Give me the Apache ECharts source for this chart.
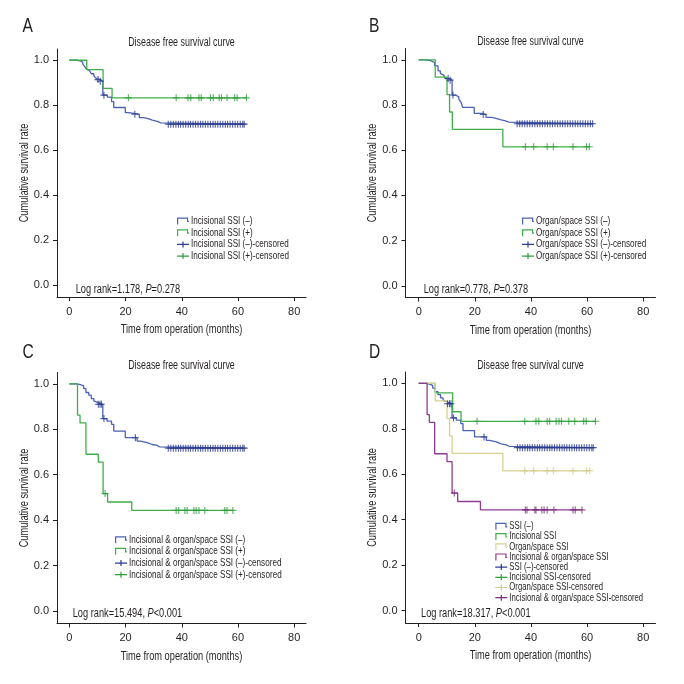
<!DOCTYPE html>
<html><head><meta charset="utf-8">
<script src="https://cdn.jsdelivr.net/npm/echarts@6/dist/echarts.min.js"></script>
<style>html,body{margin:0;padding:0;background:#fff}#c{width:684px;height:684px}</style>
</head><body><div id="c"></div>
<script>
// ---------- DATA ----------
const xTicks = [0, 20, 40, 60, 80];
const yTicks = [0, 0.2, 0.4, 0.6, 0.8, 1.0];

// Panel A
const aNegT = [0, 2.7, 3.9, 4.8, 5.5, 5.9, 6.5, 7.1, 7.8, 8.7, 9.3, 9.9, 10.7, 11.9, 13.5, 15.0, 15.8, 19.9, 21.0, 24.9, 26.5, 28.3, 29.5, 31.3, 32.5];
const aNegS = [1, 0.997, 0.991, 0.982, 0.972, 0.962, 0.955, 0.948, 0.940, 0.931, 0.922, 0.914, 0.907, 0.845, 0.836, 0.816, 0.790, 0.767, 0.760, 0.745, 0.739, 0.734, 0.728, 0.722, 0.716];
const aNegEnd = 62.2;
const aNegCens = [10.2, 11.0, 12.3, 23.3, 35.2, 36.1, 37.0, 37.9, 38.8, 39.6, 40.5, 41.4, 42.3, 43.1, 44.0, 44.9, 45.8, 46.7, 47.5, 48.4, 49.3, 50.2, 51.1, 51.9, 52.8, 53.7, 54.6, 55.5, 56.3, 57.2, 58.1, 59.0, 59.9, 60.8, 61.7, 62.2];
const aPosT = [0, 6.2, 12.0, 15.2];
const aPosS = [1, 0.958, 0.875, 0.833];
const aPosEnd = 63.2;
const aPosCens = [21.0, 38.0, 42.2, 43.2, 46.1, 46.9, 50.2, 51.2, 53.3, 54.1, 56.1, 58.8, 59.7, 63.0];

// Panel B
const bNegT = [0, 2.4, 4.0, 4.8, 5.7, 6.9, 7.7, 8.3, 8.9, 9.5, 10.7, 11.9, 13.1, 14.3, 15.0, 15.7, 19.8, 22.8, 24.0, 26.1, 27.9, 29.1, 30.9, 32.1];
const bNegS = [1, 0.997, 0.993, 0.988, 0.973, 0.951, 0.940, 0.932, 0.925, 0.917, 0.910, 0.844, 0.836, 0.826, 0.814, 0.789, 0.763, 0.758, 0.745, 0.740, 0.735, 0.730, 0.724, 0.717];
const bNegEnd = 62.0;
const bNegCens = [10.5, 11.2, 12.2, 23.0, 35.1, 36.0, 36.9, 37.8, 38.7, 39.6, 40.5, 41.4, 42.3, 43.2, 44.1, 45.0, 45.9, 46.8, 47.7, 48.6, 49.5, 50.4, 51.3, 52.2, 53.1, 54.0, 54.9, 55.8, 56.7, 57.6, 58.5, 59.4, 60.3, 61.2, 62.0];
const bPosT = [0, 5.9, 10.1, 11.0, 12.0, 30.0];
const bPosS = [1, 0.923, 0.846, 0.769, 0.692, 0.615];
const bPosEnd = 61.0;
const bPosCens = [38.0, 41.0, 45.8, 48.0, 55.0, 59.8, 60.8];

// Panel C
const cNegT = [0, 2.7, 3.9, 5.1, 5.9, 6.9, 7.8, 8.7, 9.3, 10.2, 11.9, 13.4, 15.0, 15.8, 19.9, 24.1, 25.3, 27.7, 29.4, 31.2, 32.0];
const cNegS = [1, 0.997, 0.991, 0.979, 0.962, 0.950, 0.935, 0.925, 0.917, 0.910, 0.847, 0.836, 0.822, 0.792, 0.763, 0.748, 0.741, 0.733, 0.729, 0.723, 0.717];
const cNegEnd = 62.2;
const cNegCens = [10.3, 10.9, 11.4, 12.3, 23.5, 35.2, 36.1, 37.0, 37.9, 38.8, 39.6, 40.5, 41.4, 42.3, 43.1, 44.0, 44.9, 45.8, 46.7, 47.5, 48.4, 49.3, 50.2, 51.1, 51.9, 52.8, 53.7, 54.6, 55.5, 56.3, 57.2, 58.1, 59.0, 59.9, 60.8, 61.7, 62.2];
const cPosT = [0, 2.9, 3.8, 5.9, 10.3, 12.0, 13.6, 22.2];
const cPosS = [1, 0.862, 0.828, 0.690, 0.655, 0.517, 0.480, 0.443];
const cPosEnd = 58.3;
const cPosCens = [12.7, 38.0, 38.9, 41.1, 41.9, 44.3, 45.1, 46.1, 48.2, 55.3, 56.1, 58.2];

// Panel D
const dNegT = [0, 2.6, 3.9, 5.0, 5.9, 6.9, 7.8, 8.7, 9.3, 10.2, 11.9, 13.4, 15.0, 15.8, 19.9, 24.1, 25.3, 27.7, 29.4, 31.2, 32.2];
const dNegS = [1, 0.997, 0.991, 0.979, 0.963, 0.950, 0.936, 0.926, 0.918, 0.910, 0.848, 0.838, 0.823, 0.792, 0.764, 0.749, 0.742, 0.734, 0.729, 0.723, 0.717];
const dNegEnd = 62.2;
const dNegCens = [10.3, 11.0, 11.5, 12.4, 23.3, 35.2, 36.1, 37.0, 37.9, 38.8, 39.6, 40.5, 41.4, 42.3, 43.1, 44.0, 44.9, 45.8, 46.7, 47.5, 48.4, 49.3, 50.2, 51.1, 51.9, 52.8, 53.7, 54.6, 55.5, 56.3, 57.2, 58.1, 59.0, 59.9, 60.8, 61.7, 62.2];
const dIncT = [0, 5.9, 12.1, 15.1];
const dIncS = [1, 0.958, 0.875, 0.833];
const dIncEnd = 63.2;
const dIncCens = [20.8, 37.8, 41.8, 42.8, 45.8, 46.7, 49.0, 50.0, 50.9, 53.5, 55.6, 58.8, 59.7, 63.0];
const dOrgT = [0, 5.9, 10.1, 11.0, 11.9, 30.0];
const dOrgS = [1, 0.923, 0.846, 0.769, 0.692, 0.615];
const dOrgEnd = 61.0;
const dOrgCens = [37.8, 41.0, 45.8, 48.0, 55.0, 59.8, 61.0];
const dBothT = [0, 3.0, 3.8, 5.7, 10.1, 11.9, 13.9, 22.0];
const dBothS = [1, 0.862, 0.828, 0.690, 0.655, 0.517, 0.480, 0.443];
const dBothEnd = 58.3;
const dBothCens = [12.7, 38.0, 38.6, 41.4, 41.8, 43.9, 44.7, 45.8, 48.2, 55.0, 55.8, 58.2];

// ---------- STYLE ----------
const FONT = "'Liberation Sans', Arial, sans-serif";
const NARROW = 0.74;
const TXT = '#231f20';
const BLUE = '#4a62b6', BLUE_C = '#2c3b8e';
const GREEN = '#3fae4a', GREEN_C = '#2f9e3c';
const YEL = '#d6d290', YEL_C = '#cfcb84';
const PUR = '#8e3c91', PUR_C = '#7c2f80';
const CROSS = 'path://M0,4.2 L10,4.2 L10,5.8 L0,5.8 Z M4.2,0 L5.8,0 L5.8,10 L4.2,10 Z';
// legend icon outlines (unit box 12 x 7)
const ICON_STEP = [[0, 7], [0, 0], [11.2, 0], [11.2, 3.4], [12, 3.4], [12, 4.6], [10, 4.6], [10, 1.2], [1.2, 1.2], [1.2, 7]];
const ICON_CENS = [[0, 2.9], [5.4, 2.9], [5.4, 0.5], [6.6, 0.5], [6.6, 2.9], [12, 2.9], [12, 4.1], [6.6, 4.1], [6.6, 6.5], [5.4, 6.5], [5.4, 4.1], [0, 4.1]];

function km(T, S, end) {
  const d = T.map((t, i) => [t, S[i]]);
  d.push([end, S[S.length - 1]]);
  return d;
}
function at(T, S, t) {
  let s = S[0];
  for (let i = 0; i < T.length; i++) if (T[i] <= t) s = S[i];
  return s;
}

const grids = [], xAxes = [], yAxes = [], series = [], graphics = [];

function txt(x, y, text, size, opts) {
  const o = Object.assign({align: 'left', rot: 0, rich: null}, opts || {});
  const style = {text: text, fill: TXT, font: size + 'px ' + FONT, align: o.align, verticalAlign: 'middle'};
  if (o.rich) style.rich = o.rich;
  graphics.push({type: 'text', x: x, y: y, rotation: o.rot, scaleX: NARROW, silent: true, style: style});
}

function panel(idx, g, xr, yr, curves, leg, letter, lr) {
  grids.push({left: g[0], top: g[1], width: g[2], height: g[3], containLabel: false});
  const lab = {fontFamily: FONT, fontSize: 11, color: TXT};
  xAxes.push({
    gridIndex: idx, type: 'value', min: xr[0], max: xr[1],
    axisLine: {onZero: false, lineStyle: {color: TXT, width: 1}},
    axisTick: {customValues: xTicks, length: 4, lineStyle: {color: TXT}},
    axisLabel: Object.assign({customValues: xTicks, margin: 9}, lab),
    splitLine: {show: false}
  });
  yAxes.push({
    gridIndex: idx, type: 'value', min: yr[0], max: yr[1],
    axisLine: {onZero: false, lineStyle: {color: TXT, width: 1}},
    axisTick: {customValues: yTicks, length: 4, lineStyle: {color: TXT}},
    axisLabel: Object.assign({customValues: yTicks, margin: 8, formatter: v => v.toFixed(1)}, lab),
    splitLine: {show: false}
  });
  const items = [];
  curves.forEach((c, k) => {
    series.push({
      type: 'line', name: c.name, xAxisIndex: idx, yAxisIndex: idx,
      step: 'end', symbol: 'none', showSymbol: false, silent: true,
      data: km(c.T, c.S, c.end),
      lineStyle: {color: c.color, width: 1.3}, itemStyle: {color: c.color},
      z: 2 + k
    });
    items.push({icon: ICON_STEP, color: c.color, text: c.name});
  });
  curves.forEach((c, k) => {
    series.push({
      type: 'scatter', name: c.cname, xAxisIndex: idx, yAxisIndex: idx,
      symbol: CROSS, symbolSize: 7, silent: true,
      data: c.cens.map(t => [t, at(c.T, c.S, t)]),
      itemStyle: {color: c.ccolor}, z: 10 + k
    });
    items.push({icon: ICON_CENS, color: c.ccolor, text: c.cname});
  });
  // legend (icons + narrow text)
  items.forEach((it, i) => {
    const cy = leg[1] + i * leg[2];
    graphics.push({type: 'polygon', silent: true, x: leg[0], y: cy - 3.5,
      shape: {points: it.icon}, style: {fill: it.color}});
    txt(leg[0] + 14, cy, it.text, leg[3]);
  });
  const cx = g[0] + g[2] / 2;
  txt(cx, g[1] - 6.5, 'Disease free survival curve', 12, {align: 'center'});
  txt(cx, g[1] + g[3] + 33, 'Time from operation (months)', 12.5, {align: 'center'});
  txt(g[0] - 32.5, g[1] + g[3] / 2, 'Cumulative survival rate', 12.5, {align: 'center', rot: Math.PI / 2});
  txt(letter[1], letter[2], letter[0], 21);
  txt(lr[0], lr[1], lr[2], 12.5, {rich: {
    n: {fontFamily: FONT, fontSize: 12.5, fill: TXT},
    i: {fontFamily: FONT, fontSize: 12.5, fontStyle: 'italic', fill: TXT}}});
}

panel(0, [57, 49, 249, 248], [-4.4, 84.2], [-0.052, 1.05], [
  {name: 'Incisional SSI (–)', cname: 'Incisional SSI (–)-censored', color: BLUE, ccolor: BLUE_C, T: aNegT, S: aNegS, end: aNegEnd, cens: aNegCens},
  {name: 'Incisional SSI (+)', cname: 'Incisional SSI (+)-censored', color: GREEN, ccolor: GREEN_C, T: aPosT, S: aPosS, end: aPosEnd, cens: aPosCens}
], [177, 221, 11.7, 11], ['A', 22.5, 26], [75.7, 289.3, '{n|Log rank=1.178, }{i|P}{n|=0.278}']);

panel(1, [405.5, 48.5, 250, 249], [-4.7, 84.4], [-0.052, 1.05], [
  {name: 'Organ/space SSI (–)', cname: 'Organ/space SSI (–)-censored', color: BLUE, ccolor: BLUE_C, T: bNegT, S: bNegS, end: bNegEnd, cens: bNegCens},
  {name: 'Organ/space SSI (+)', cname: 'Organ/space SSI (+)-censored', color: GREEN, ccolor: GREEN_C, T: bPosT, S: bPosS, end: bPosEnd, cens: bPosCens}
], [522, 221, 11.7, 11], ['B', 369, 26], [423.7, 289.3, '{n|Log rank=0.778, }{i|P}{n|=0.378}']);

panel(2, [57, 372.5, 249, 251], [-4.4, 84.2], [-0.055, 1.05], [
  {name: 'Incisional & organ/space SSI (–)', cname: 'Incisional & organ/space SSI (–)-censored', color: BLUE, ccolor: BLUE_C, T: cNegT, S: cNegS, end: cNegEnd, cens: cNegCens},
  {name: 'Incisional & organ/space SSI (+)', cname: 'Incisional & organ/space SSI (+)-censored', color: GREEN, ccolor: GREEN_C, T: cPosT, S: cPosS, end: cPosEnd, cens: cPosCens}
], [115, 539.7, 11.67, 11], ['C', 22.5, 352], [72.7, 613.7, '{n|Log rank=15.494, }{i|P}{n|<0.001}']);

panel(3, [405.5, 372, 250, 251], [-4.7, 84.4], [-0.055, 1.05], [
  {name: 'SSI (–)', cname: 'SSI (–)-censored', color: BLUE, ccolor: BLUE_C, T: dNegT, S: dNegS, end: dNegEnd, cens: dNegCens},
  {name: 'Incisional SSI', cname: 'Incisional SSI-censored', color: GREEN, ccolor: GREEN_C, T: dIncT, S: dIncS, end: dIncEnd, cens: dIncCens},
  {name: 'Organ/space SSI', cname: 'Organ/space SSI-censored', color: YEL, ccolor: YEL_C, T: dOrgT, S: dOrgS, end: dOrgEnd, cens: dOrgCens},
  {name: 'Incisional & organ/space SSI', cname: 'Incisional & organ/space SSI-censored', color: PUR, ccolor: PUR_C, T: dBothT, S: dBothS, end: dBothEnd, cens: dBothCens}
], [495.3, 526.3, 10.2, 10.5], ['D', 369, 352], [421, 613.7, '{n|Log rank=18.317, }{i|P}{n|<0.001}']);

const chart = echarts.init(document.getElementById('c'), null, {renderer: 'canvas'});
chart.setOption({
  animation: false,
  backgroundColor: '#ffffff',
  grid: grids, xAxis: xAxes, yAxis: yAxes,
  series: series, graphic: graphics
});
</script></body></html>
